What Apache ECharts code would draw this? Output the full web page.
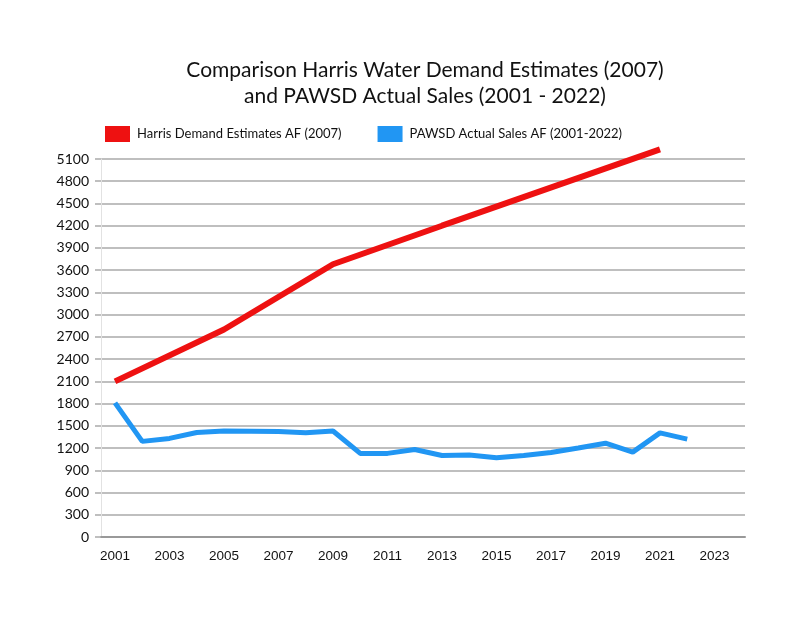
<!DOCTYPE html>
<html>
<head>
<meta charset="utf-8">
<script src="https://cdn.jsdelivr.net/npm/echarts@6/dist/echarts.min.js"></script>
<style>html,body{margin:0;padding:0;background:#fff;}#c{width:800px;height:619px;}</style>
</head>
<body>
<div id="c"></div>
<script>
var titleLines = ['Comparison Harris Water Demand Estimates (2007)', 'and PAWSD Actual Sales (2001 - 2022)'];
var seriesNames = ['Harris Demand Estimates AF (2007)', 'PAWSD Actual Sales AF (2001-2022)'];
var harrisYears = [2001, 2005, 2009, 2013, 2021];
var harrisValues = [2100, 2800, 3680, 4200, 5230];
var pawsdYears = [2001,2002,2003,2004,2005,2006,2007,2008,2009,2010,2011,2012,2013,2014,2015,2016,2017,2018,2019,2020,2021,2022];
var pawsdValues = [1810,1290,1330,1410,1430,1428,1422,1405,1430,1128,1128,1180,1100,1105,1070,1100,1140,1200,1265,1145,1405,1320];
var xTickLabels = [2001,2003,2005,2007,2009,2011,2013,2015,2017,2019,2021,2023];
var yMin = 0, yMax = 5100, yStep = 300;

var chart = echarts.init(document.getElementById('c'), null, {renderer: 'canvas'});
var font = 'Lato, "Open Sans", sans-serif';
chart.setOption({
  backgroundColor: '#ffffff',
  animation: false,
  graphic: [
    {type: 'text', x: 425, y: 60, style: {text: titleLines[0], textAlign: 'center', fill: '#111', font: '21px ' + font}},
    {type: 'text', x: 425, y: 86, style: {text: titleLines[1], textAlign: 'center', fill: '#111', font: '21px ' + font}}
  ],
  legend: {
    left: 100, top: 121, itemWidth: 25, itemHeight: 16, itemGap: 36,
    icon: 'rect',
    textStyle: {fontFamily: font, fontSize: 13, color: '#111', padding: [0, 0, 0, 2]},
    data: seriesNames
  },
  grid: {left: 101, right: 55, top: 159, bottom: 82, containLabel: false},
  xAxis: {
    type: 'value', min: 2000.486, max: 2024.12,
    axisLine: {show: true, lineStyle: {color: '#999', width: 2}},
    axisTick: {show: false},
    splitLine: {show: false},
    axisLabel: {customValues: xTickLabels, margin: 12, color: '#111',
      fontFamily: '"Liberation Sans Narrow", "Liberation Sans", sans-serif', fontSize: 13.5,
      formatter: function (v) { return String(v); }}
  },
  yAxis: {
    type: 'value', min: yMin, max: yMax, interval: yStep,
    axisLine: {show: true, lineStyle: {color: '#e2e2e2', width: 1}},
    axisTick: {show: true, length: 6, lineStyle: {color: '#aaa', width: 1.5}},
    splitLine: {show: true, lineStyle: {color: '#aaa', width: 1.5}},
    axisLabel: {margin: 12, color: '#111', fontFamily: font, fontSize: 14,
      formatter: function (v) { return String(v); }}
  },
  series: [
    {
      name: seriesNames[0], type: 'line', clip: false, showSymbol: false, symbol: 'none',
      color: '#ee1111',
      lineStyle: {width: 6, color: '#ee1111'},
      data: harrisYears.map(function (y, i) { return [y, harrisValues[i]]; })
    },
    {
      name: seriesNames[1], type: 'line', clip: false, showSymbol: false, symbol: 'none',
      color: '#2196f3',
      lineStyle: {width: 5, color: '#2196f3'},
      data: pawsdYears.map(function (y, i) { return [y, pawsdValues[i]]; })
    }
  ]
});
</script>
</body>
</html>
